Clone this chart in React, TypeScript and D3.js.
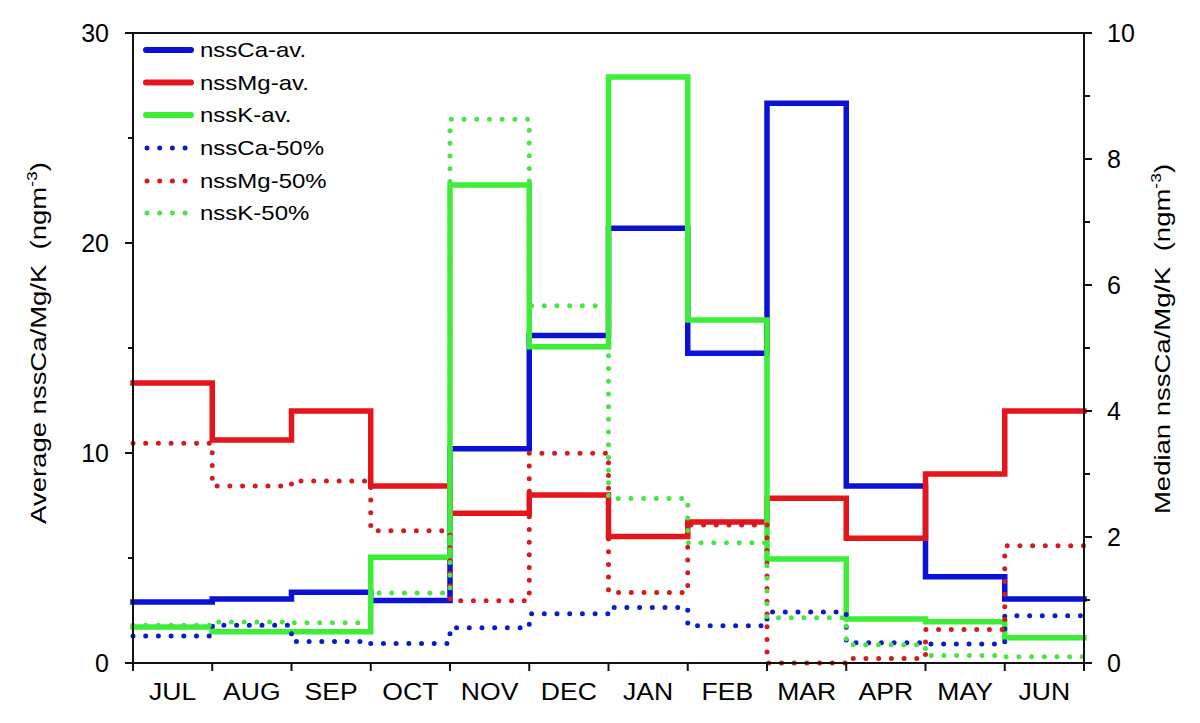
import * as d3 from 'd3';
import React, { useEffect } from 'react';

const months = ['JUL', 'AUG', 'SEP', 'OCT', 'NOV', 'DEC', 'JAN', 'FEB', 'MAR', 'APR', 'MAY', 'JUN'];

// averages, left axis (ngm-3)
const caAvg = [2.9, 3.05, 3.37, 2.98, 10.2, 15.6, 20.7, 14.75, 26.65, 8.43, 4.11, 3.05];
const mgAvg = [13.33, 10.62, 12.0, 8.43, 7.13, 8.0, 6.02, 6.71, 7.84, 5.94, 9.0, 12.0];
const kAvg = [1.71, 1.49, 1.49, 5.03, 22.76, 15.06, 27.9, 16.33, 4.95, 2.1, 1.97, 1.2];

// medians, right axis (ngm-3)
const caMed = [0.43, 0.6, 0.34, 0.31, 0.56, 0.78, 0.88, 0.59, 0.81, 0.32, 0.3, 0.75];
const mgMed = [3.49, 2.81, 2.89, 2.1, 0.99, 3.33, 1.12, 2.19, 0.0, 0.07, 0.53, 1.86];
const kMed = [0.6, 0.65, 0.64, 1.11, 8.63, 5.67, 2.61, 1.91, 0.72, 0.29, 0.12, 0.1];

const leftTicks = [0, 10, 20, 30];
const leftMinor = [5, 15, 25];
const rightTicks = [0, 2, 4, 6, 8, 10];
const rightMinor = [1, 3, 5, 7, 9];

const series = [
  { name: 'nssCa-av.', values: caAvg, axis: 'left', color: '#0b12d8', dotted: false },
  { name: 'nssMg-av.', values: mgAvg, axis: 'left', color: '#e6141b', dotted: false },
  { name: 'nssK-av.', values: kAvg, axis: 'left', color: '#3cee36', dotted: false },
  { name: 'nssCa-50%', values: caMed, axis: 'right', color: '#0a1ec6', dotted: true },
  { name: 'nssMg-50%', values: mgMed, axis: 'right', color: '#d41c1e', dotted: true },
  { name: 'nssK-50%', values: kMed, axis: 'right', color: '#4ae446', dotted: true },
];

export default function App() {
  const ref = React.useRef<HTMLDivElement>(null);

  useEffect(() => {
    if (!ref.current) return;
    document.body.style.margin = '0';
    ref.current.innerHTML = '';

    const W = 1200;
    const H = 723;
    const left = 133;
    const right = 1084;
    const top = 33;
    const bottom = 663;
    const font = '"Liberation Sans", Arial, sans-serif';

    const x = d3.scaleBand<string>().domain(months).range([left, right]).paddingInner(0).paddingOuter(0);
    const yL = d3.scaleLinear().domain([0, 30]).range([bottom, top]);
    const yR = d3.scaleLinear().domain([0, 10]).range([bottom, top]);

    const svg = d3
      .select(ref.current)
      .append('svg')
      .attr('width', W)
      .attr('height', H)
      .style('display', 'block')
      .style('font-family', font);

    svg.append('rect').attr('width', W).attr('height', H).attr('fill', '#fff');

    // step lines
    const line = d3
      .line<{ x: number; y: number }>()
      .x(d => d.x)
      .y(d => d.y)
      .curve(d3.curveStepAfter);

    const drawOrder = [...series.filter(s => !s.dotted), ...series.filter(s => s.dotted)];
    drawOrder.forEach(s => {
      const y = s.axis === 'left' ? yL : yR;
      const pts = s.values.map((v, i) => ({ x: x(months[i]) as number, y: y(v) }));
      pts.push({ x: right, y: y(s.values[s.values.length - 1]) });
      const p = svg
        .append('path')
        .attr('d', line(pts))
        .attr('fill', 'none')
        .attr('stroke', s.color);
      if (s.dotted) {
        p.attr('stroke-width', 5).attr('stroke-dasharray', '0 12.7').attr('stroke-linecap', 'round');
      } else {
        p.attr('stroke-width', 5.5).attr('stroke-linejoin', 'miter').attr('stroke-linecap', 'square');
      }
    });

    // frame
    const frame = svg.append('g').attr('stroke', '#111').attr('stroke-width', 2).attr('fill', 'none');
    frame.append('path').attr('d', `M${left},${top}V${bottom}H${right}V${top}Z`);

    // left ticks
    leftTicks.forEach(t => {
      svg.append('line').attr('x1', left - 8).attr('x2', left).attr('y1', yL(t)).attr('y2', yL(t))
        .attr('stroke', '#111').attr('stroke-width', 2);
      svg.append('text').attr('x', 109).attr('y', yL(t)).attr('dy', '0.36em')
        .attr('text-anchor', 'end').attr('font-size', 25).text(t);
    });
    leftMinor.forEach(t => {
      svg.append('line').attr('x1', left - 5).attr('x2', left).attr('y1', yL(t)).attr('y2', yL(t))
        .attr('stroke', '#111').attr('stroke-width', 2);
    });

    // right ticks
    rightTicks.forEach(t => {
      svg.append('line').attr('x1', right).attr('x2', right + 8).attr('y1', yR(t)).attr('y2', yR(t))
        .attr('stroke', '#111').attr('stroke-width', 2);
      svg.append('text').attr('x', 1107).attr('y', yR(t)).attr('dy', '0.36em')
        .attr('text-anchor', 'start').attr('font-size', 25).text(t);
    });
    rightMinor.forEach(t => {
      svg.append('line').attr('x1', right).attr('x2', right + 6).attr('y1', yR(t)).attr('y2', yR(t))
        .attr('stroke', '#111').attr('stroke-width', 2);
    });

    // bottom ticks and month labels
    const edges = [...months.map(m => x(m) as number), right];
    edges.forEach(e => {
      svg.append('line').attr('x1', e).attr('x2', e).attr('y1', bottom).attr('y2', bottom + 8)
        .attr('stroke', '#111').attr('stroke-width', 2);
    });
    months.forEach(m => {
      const cx = (x(m) as number) + x.bandwidth() / 2;
      svg.append('text').attr('transform', `translate(${cx},700) scale(1.13,1)`)
        .attr('text-anchor', 'middle').attr('font-size', 23.5).text(m);
    });

    // axis titles
    const title = (cx: number, cy: number, label: string) => {
      const t = svg.append('text')
        .attr('transform', `translate(${cx},${cy}) rotate(-90) scale(1.25,1)`)
        .attr('text-anchor', 'middle')
        .attr('font-size', 22)
        .style('white-space', 'pre');
      t.append('tspan').text(label + '  (ngm');
      t.append('tspan').attr('font-size', 14).attr('dy', -9).text('-3');
      t.append('tspan').attr('dy', 9).text(')');
    };
    title(46, 343, 'Average nssCa/Mg/K');
    title(1170, 339, 'Median nssCa/Mg/K');

    // legend
    const rows = [50, 82.5, 115, 148, 181, 213];
    series.forEach((s, i) => {
      const ly = rows[i];
      const l = svg.append('line').attr('x1', s.dotted ? 147 : 146).attr('x2', s.dotted ? 186 : 191)
        .attr('y1', ly).attr('y2', ly).attr('stroke', s.color).attr('stroke-linecap', 'round');
      if (s.dotted) l.attr('stroke-width', 5).attr('stroke-dasharray', '0 12.7');
      else l.attr('stroke-width', 6);
      svg.append('text').attr('transform', `translate(200,${ly}) scale(1.2,1)`).attr('dy', '0.36em')
        .attr('font-size', 20).text(s.name);
    });
  }, []);

  return <div ref={ref}></div>;
}
